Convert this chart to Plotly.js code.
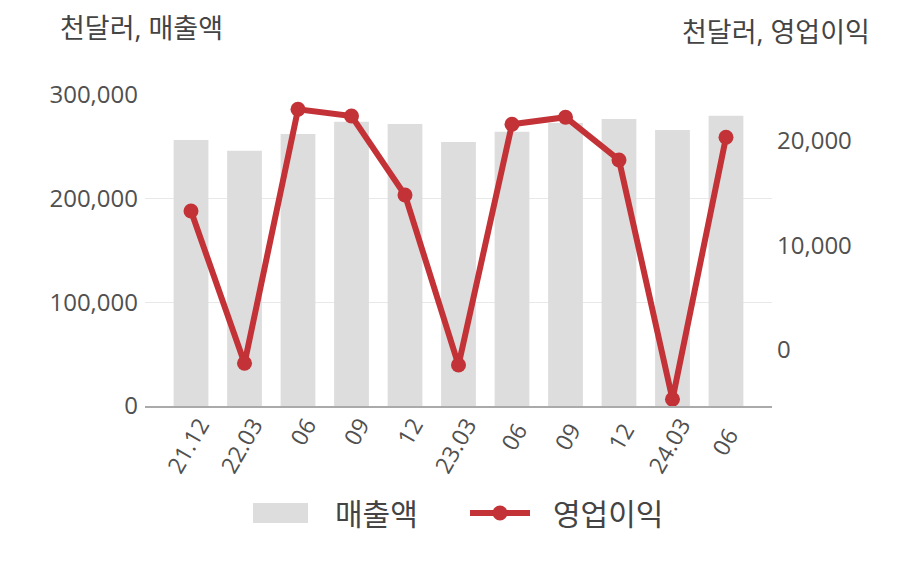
<!DOCTYPE html>
<html>
<head>
<meta charset="utf-8">
<script src="https://cdn.plot.ly/plotly-3.0.1.min.js"></script>
<style>html,body{margin:0;padding:0;background:#fff;}#chart{width:908px;height:580px;}</style>
</head>
<body>
<div id="chart"></div>
<script>
const categories = ["21.12","22.03","06","09","12","23.03","06 ","09 ","12 ","24.03","06  "];
const revenue = [256600, 246300, 262300, 274200, 272000, 254600, 264600, 273000, 276800, 266200, 280000];
const operatingProfit = [13300, -1270, 23030, 22390, 14830, -1440, 21600, 22270, 18180, -4720, 20350];
const leftTickVals = [0, 100000, 200000, 300000];
const leftTickText = ["0", "100,000", "200,000", "300,000"];
const rightTickVals = [0, 10000, 20000];
const rightTickText = ["0", "10,000", "20,000"];
const seriesNames = ["매출액", "영업이익"];

const FONT = "'Open Sans', 'Noto Sans CJK KR', sans-serif";
const BAR_COLOR = "#dddddd";
const LINE_COLOR = "#c33236";
const TEXT_COLOR = "#505050";
const traces = [
  {
    type: "bar", name: seriesNames[0], x: categories, y: revenue,
    marker: {color: BAR_COLOR}, width: 0.65, yaxis: "y"
  },
  {
    type: "scatter", mode: "lines+markers", name: seriesNames[1], x: categories, y: operatingProfit,
    line: {color: LINE_COLOR, width: 6}, marker: {color: LINE_COLOR, size: 15}, yaxis: "y2"
  }
];
// plot area: x 145..772, y 95..406 (px)
const px = v => (v - 145) / 627;
const py = v => (406 - v) / 311;
const layout = {
  width: 908, height: 580,
  margin: {l: 145, r: 136, t: 95, b: 174},
  paper_bgcolor: "#fff", plot_bgcolor: "#fff",
  font: {family: FONT, color: TEXT_COLOR, size: 24},
  showlegend: false,
  xaxis: {
    type: "category", range: [-0.86, 10.86], tickangle: -60,
    tickfont: {size: 23, color: TEXT_COLOR}, showgrid: false, zeroline: false,
    showline: true, linecolor: "#aaa", linewidth: 1.5, ticks: "", ticklabelshift: 9,
    ticklabelstandoff: -5
  },
  yaxis: {
    range: [0, 300000], tickvals: leftTickVals, ticktext: leftTickText,
    showgrid: true, gridcolor: "#e8e8e8", gridwidth: 1, zeroline: false,
    tickfont: {size: 24, color: TEXT_COLOR}, ticks: "", ticklabelstandoff: 6, automargin: false
  },
  yaxis2: {
    overlaying: "y", side: "right", range: [-5360, 24400],
    tickvals: rightTickVals, ticktext: rightTickText, showgrid: false, zeroline: false,
    tickfont: {size: 24, color: TEXT_COLOR}, ticks: "", ticklabelstandoff: 4, automargin: false
  },
  shapes: [
    {type: "rect", xref: "paper", yref: "paper", x0: px(253), x1: px(308), y0: py(523), y1: py(503),
     fillcolor: BAR_COLOR, line: {width: 0}},
    {type: "line", xref: "paper", yref: "paper", x0: px(470), x1: px(530), y0: py(513), y1: py(513),
     line: {color: LINE_COLOR, width: 6}},
    {type: "circle", xref: "paper", yref: "paper", xsizemode: "pixel", ysizemode: "pixel",
     xanchor: px(500), yanchor: py(513), x0: -7.5, x1: 7.5, y0: -7.5, y1: 7.5,
     fillcolor: LINE_COLOR, line: {width: 0}}
  ],
  annotations: [
    {xref: "paper", yref: "paper", x: px(58), y: py(28), xanchor: "left", yanchor: "middle",
     text: "천달러, 매출액", showarrow: false, font: {size: 27, color: "#444"}},
    {xref: "paper", yref: "paper", x: px(872), y: py(31), xanchor: "right", yanchor: "middle",
     text: "천달러, 영업이익", showarrow: false, font: {size: 27, color: "#444"}},
    {xref: "paper", yref: "paper", x: px(333), y: py(513), xanchor: "left", yanchor: "middle",
     text: seriesNames[0], showarrow: false, font: {size: 30, color: "#444"}},
    {xref: "paper", yref: "paper", x: px(551), y: py(513), xanchor: "left", yanchor: "middle",
     text: seriesNames[1], showarrow: false, font: {size: 30, color: "#444"}}
  ]
};
Plotly.newPlot("chart", traces, layout, {displayModeBar: false, staticPlot: true});
</script>
</body>
</html>
